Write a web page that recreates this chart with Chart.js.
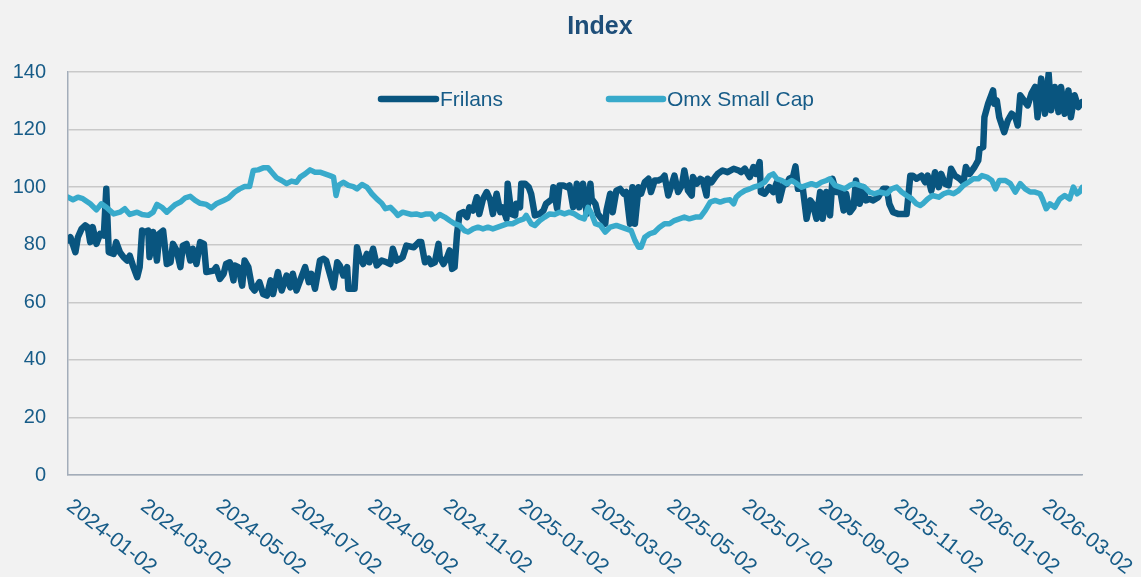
<!DOCTYPE html>
<html>
<head>
<meta charset="utf-8">
<script src="https://cdn.jsdelivr.net/npm/chart.js@4.4.1/dist/chart.umd.min.js"></script>
<style>
  html, body { margin: 0; padding: 0; background: #F2F2F2; }
  #wrap { width: 1141px; height: 577px; position: relative; background: #F2F2F2; }
  canvas { display: block; }
</style>
</head>
<body>
<div id="wrap"><canvas id="chart" width="1141" height="577"></canvas></div>
<script>
// ---------------- data ----------------
const chartTitle = 'Index';
const seriesNames = ['Frilans', 'Omx Small Cap'];
const startDate = '2024-01-02';
const endDate = '2026-04-02';
const xTickDates = ['2024-01-02','2024-03-02','2024-05-02','2024-07-02','2024-09-02','2024-11-02',
  '2025-01-02','2025-03-02','2025-05-02','2025-07-02','2025-09-02','2025-11-02','2026-01-02','2026-03-02'];
const yTicks = [0, 20, 40, 60, 80, 100, 120, 140];

// days since startDate
const frilansDays = [
  0,2,6,8,11,14,16,18,20,23,
  26,29,31,33,37,39,42,45,48,50,
  53,56,58,60,62,65,66,69,72,74,
  77,80,83,85,88,91,93,96,99,101,
  104,107,110,112,118,120,123,126,128,131,
  134,135,138,141,143,146,149,151,155,158,
  161,164,166,170,173,177,180,182,185,188,
  192,195,197,200,204,207,209,212,215,218,
  220,223,226,227,232,234,236,239,242,244,
  247,250,254,258,261,263,266,269,271,274,
  280,284,286,289,292,294,297,300,301,304,
  307,309,311,313,315,317,320,323,325,328,
  331,333,336,339,342,344,347,350,352,355,
  356,359,362,363,366,367,370,373,375,378,
  382,385,387,392,393,396,398,401,404,406,
  409,412,414,417,420,423,424,427,429,432,
  435,436,439,441,444,447,450,452,455,457,
  459,462,464,467,470,472,475,478,481,483,
  486,489,491,494,497,499,502,505,506,509,
  512,514,517,518,521,524,526,530,534,539,
  543,545,548,552,555,557,560,561,564,568,
  571,574,576,579,582,584,587,589,591,595,
  598,601,603,606,609,611,614,617,619,622,
  625,628,630,633,636,638,641,644,646,649,
  652,656,660,663,665,668,672,676,679,682,
  684,687,691,694,696,699,702,705,707,710,
  713,715,718,722,725,727,730,734,737,738,
  741,742,745,749,750,752,754,758,761,764,
  767,769,771,775,777,780,783,785,788,791,
  794,796,799,802,804,807,810,812,815,818,
  821
];
const frilansValues = [
  81.5,82.6,77.4,82.6,85.5,86.7,86.1,80.9,86.1,80.3,
  83.8,83.2,99.4,77.4,76.8,80.9,77.4,75.7,74.5,76.2,
  72.2,68.7,72.2,84.9,84.4,84.9,75.7,84.4,74.5,83.8,
  84.9,73.3,73.9,80.3,78,72.2,79.7,80.3,74.5,78.6,
  73.3,80.9,80.3,70.5,71,72.2,68.1,69.9,73.3,73.9,
  67.6,72.8,72.2,65.8,74.5,72.2,65.2,64.1,67,62.9,
  62.3,67.6,62.9,70.5,64.1,69.3,65.2,69.9,64.1,67.6,
  72.2,67,69.9,64.7,74.5,75.1,74.5,69.9,65.2,73.9,
  72.8,69.3,72.2,64.7,64.7,79.1,75.7,73.3,76.8,73.9,
  78.6,72.8,74.5,73.9,73.3,78.6,74.5,75.1,75.7,79.7,
  79.1,80.9,80.9,73.9,75.1,73.3,73.9,80.3,75.7,73.3,
  75.7,78,71.6,72.2,83.8,90.7,91.3,89.6,93,91.9,
  96.5,90.7,95.9,98.3,95.4,90.7,97.7,91.3,93,89,
  101.2,90.7,90.2,94.2,93,101.2,101.2,100,97.7,90.2,
  90.7,91.9,94.2,95.9,100,92.5,100.6,100.6,100,100.6,
  93,101.2,93,101.2,90.7,101.2,95.9,94.2,90.7,89,
  87.3,91.9,97.7,91.3,98.8,99.4,97.7,98.3,87.3,100,
  87.3,100,97.7,101.7,102.9,98.3,102.3,102.3,102.9,104,
  97.1,101.2,104,98.3,100.6,105.8,98.8,97.1,103.5,101.2,
  102.9,102.3,97.1,102.9,101.7,103.5,104.6,105.8,105.2,106.4,
  105.8,105.2,106.4,103.5,107,104.6,108.7,98.3,97.7,100,
  98.3,101.7,95.4,100.6,101.2,102.9,103.5,107.2,99.4,99.4,
  89,95.4,94.2,89,98.3,89,98.3,90.2,102.9,98.3,
  99.4,91.9,97.7,91.3,93,102.3,94.2,100,95.4,95.9,
  95.4,96.5,99.4,99.4,94.2,91.3,90.7,90.7,90.7,104,
  104,102.9,104,101.7,104,98.8,105.2,100,104.6,101.2,
  100.6,106.4,104,102.9,101.7,107,104.6,107,109.3,113.3,
  113.9,124.3,129,133.6,129,130.1,124.3,119.1,123.2,125.5,
  124.3,121.4,131.9,129.5,128.4,132.4,134.8,124.3,137.7,125.5,
  139.4,126.7,134.8,126.1,134.8,125.5,133.6,124.3,131.9,127.8,
  129.5
];

const omxDays = [
  0,4,8,12,18,23,27,31,37,42,
  46,50,56,60,65,69,72,76,80,83,
  87,91,95,99,103,107,112,116,120,126,
  130,135,139,143,147,150,154,158,162,165,
  169,173,177,181,185,188,192,196,200,204,
  208,212,215,217,219,223,227,231,234,238,
  242,246,250,254,257,261,265,267,271,278,
  282,286,290,294,297,301,305,309,313,317,
  321,324,328,332,336,340,344,348,352,356,
  360,365,369,371,375,378,382,386,390,394,
  398,402,406,410,414,418,421,424,427,431,
  435,439,444,448,452,456,459,462,464,467,
  471,475,479,483,487,491,495,499,503,508,
  512,516,520,524,528,532,536,539,541,544,
  548,552,555,560,564,568,571,574,578,582,
  586,590,594,598,602,606,610,614,617,621,
  625,629,633,637,641,645,649,653,657,663,
  667,671,675,679,683,687,690,692,696,700,
  705,709,713,717,721,725,729,733,737,740,
  744,748,751,754,759,763,767,771,775,779,
  783,787,789,792,795,799,803,807,811,814,
  817,819,821
];
const omxValues = [
  96.5,95.6,96.5,96,94.2,92.1,94.2,93,90.7,91.3,
  92.5,90.5,91.3,90.5,90.2,91.3,94,93,91.3,92.5,
  94,94.8,96.3,96.8,95.4,94.4,94,92.8,94.2,95.4,
  96.2,98.3,99.4,100.2,100.2,105.8,106,106.7,106.7,105.2,
  103.2,102.3,101.2,102.1,101.7,103.5,104.6,106,105.2,105.2,
  104.6,104,103.5,97.1,100.6,101.7,100.6,100.2,99.4,100.9,
  100,97.7,95.9,94.4,92.5,93,91.3,90.2,91.3,90.5,
  90.7,90.2,90.7,90.7,89,90.5,89.6,88.4,87.3,86.7,
  84.9,84.4,85.5,86.1,85.5,86.1,85.5,86.1,86.7,87.3,
  87.3,88.4,89,90.2,87.3,86.7,88.4,89.6,90.7,90.5,
  91.3,90.7,91.3,90.7,89.6,89,93,90.7,87.3,86.7,
  84.4,86.1,86.7,86.1,85.5,84.9,81.5,79.1,79.1,82.6,
  83.8,84.4,86.1,87.3,87.3,88.4,89,89.6,89,89.6,
  89.6,91.9,94.8,95.4,94.8,95.4,95.6,94.2,96.5,97.7,
  98.8,99.4,100,100.6,101.7,104,104.6,102.9,102.3,101.2,
  102.3,101.2,100,100.6,101.2,100.6,101.7,102.3,102.9,100.6,
  100,99.4,100.6,101.2,100.6,100,98.3,97.7,98.3,97.7,
  99.4,100,98.3,97.1,96,94.2,93.6,94.2,95.9,97.1,
  96.5,97.7,98.3,97.7,98.8,100.6,101.7,102.9,102.9,104,
  103.5,102.3,99.4,102.3,102.3,101.2,98.3,101.2,99.4,98.3,
  98.3,97.7,95.9,92.5,94.2,93,95.9,97.1,95.9,100,
  97.7,98.3,99.9
];

// ---------------- helpers ----------------
function dayOffset(iso) {
  const [y, m, d] = iso.split('-').map(Number);
  const [y0, m0, d0] = startDate.split('-').map(Number);
  return Math.round((Date.UTC(y, m - 1, d) - Date.UTC(y0, m0 - 1, d0)) / 86400000);
}
const xTickDays = xTickDates.map(dayOffset);
const xMax = dayOffset(endDate);

const FONT = '"Liberation Sans", Arial, sans-serif';
const TEXT_COLOR = '#175C88';
const TITLE_COLOR = '#1E4E79';
const FRILANS_COLOR = '#09557F';
const OMX_COLOR = '#38AACB';

const overlay = {
  id: 'overlay',
  afterDraw(chart) {
    const ctx = chart.ctx;
    const xs = chart.scales.x;
    const area = chart.chartArea;
    ctx.save();
    // title
    ctx.fillStyle = TITLE_COLOR;
    ctx.font = 'bold 25px ' + FONT;
    ctx.textAlign = 'center';
    ctx.textBaseline = 'middle';
    ctx.fillText(chartTitle, 600, 27);

    // legend
    const ly = area.top + 27;
    const items = [
      { name: seriesNames[0], color: FRILANS_COLOR, x0: 381, x1: 436, tx: 440 },
      { name: seriesNames[1], color: OMX_COLOR, x0: 609, x1: 663, tx: 667 }
    ];
    ctx.lineCap = 'round';
    ctx.lineWidth = 6.5;
    ctx.font = '21px ' + FONT;
    ctx.textAlign = 'left';
    items.forEach(it => {
      ctx.strokeStyle = it.color;
      ctx.beginPath();
      ctx.moveTo(it.x0, ly);
      ctx.lineTo(it.x1, ly);
      ctx.stroke();
      ctx.fillStyle = TEXT_COLOR;
      ctx.fillText(it.name, it.tx, ly + 1);
    });

    // rotated x tick labels
    ctx.font = '21px ' + FONT;
    ctx.fillStyle = TEXT_COLOR;
    ctx.textAlign = 'left';
    ctx.textBaseline = 'middle';
    xTickDays.forEach((d, i) => {
      const px = xs.getPixelForValue(d);
      ctx.save();
      ctx.translate(px + 1, area.bottom + 29);
      ctx.rotate(38 * Math.PI / 180);
      ctx.fillText(xTickDates[i], 0, 0);
      ctx.restore();
    });
    ctx.restore();
  }
};

new Chart(document.getElementById('chart'), {
  type: 'line',
  data: {
    datasets: [
      {
        label: seriesNames[0],
        data: frilansDays.map((d, i) => ({ x: d, y: frilansValues[i] })),
        borderColor: FRILANS_COLOR,
        backgroundColor: FRILANS_COLOR,
        borderWidth: 6.5,
        pointRadius: 0,
        tension: 0,
        borderJoinStyle: 'round',
        borderCapStyle: 'round',
        order: 2
      },
      {
        label: seriesNames[1],
        data: omxDays.map((d, i) => ({ x: d, y: omxValues[i] })),
        borderColor: OMX_COLOR,
        backgroundColor: OMX_COLOR,
        borderWidth: 5.5,
        pointRadius: 0,
        tension: 0,
        borderJoinStyle: 'round',
        borderCapStyle: 'round',
        order: 1
      }
    ]
  },
  options: {
    responsive: false,
    animation: false,
    events: [],
    layout: { padding: { left: 0, right: 59, top: 72, bottom: 102 } },
    plugins: {
      legend: { display: false },
      title: { display: false },
      tooltip: { enabled: false }
    },
    scales: {
      x: {
        type: 'linear',
        min: 0,
        max: xMax,
        afterBuildTicks: s => { s.ticks = xTickDays.map(v => ({ value: v })); },
        grid: { display: false, drawTicks: false },
        border: { display: true, color: '#A3ADBA', width: 1.5 },
        ticks: { display: false }
      },
      y: {
        min: 0,
        max: 140,
        afterBuildTicks: s => { s.ticks = yTicks.map(v => ({ value: v })); },
        afterFit: s => { s.width = 68; },
        grid: { color: '#C9C9C9', lineWidth: 1.5, drawTicks: false },
        border: { display: true, color: '#A3ADBA', width: 1.5 },
        ticks: {
          padding: 22,
          color: TEXT_COLOR,
          font: { family: FONT, size: 20 }
        }
      }
    }
  },
  plugins: [overlay]
});
</script>
</body>
</html>
